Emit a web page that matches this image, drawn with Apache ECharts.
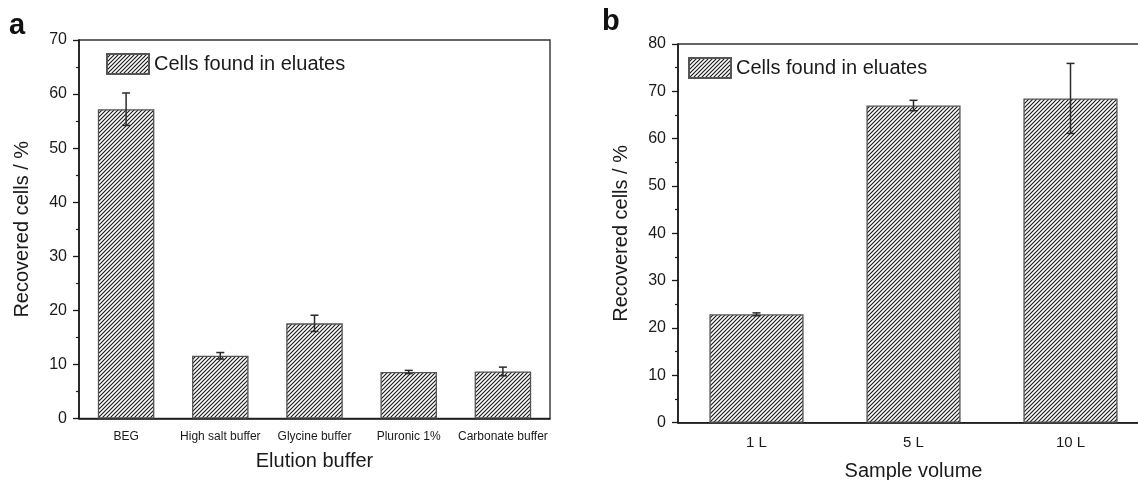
<!DOCTYPE html>
<html>
<head>
<meta charset="utf-8">
<script src="https://cdn.jsdelivr.net/npm/echarts@6/dist/echarts.min.js"></script>
<style>
html,body{margin:0;padding:0;background:#fff;}
#chart{width:1138px;height:480px;}
</style>
</head>
<body>
<div id="chart"></div>
<script>
// ---- data ----
const catsA = ['BEG', 'High salt buffer', 'Glycine buffer', 'Pluronic 1%', 'Carbonate buffer'];
const valsA = [57.2, 11.6, 17.6, 8.6, 8.7];
const errA  = [3.0, 0.6, 1.5, 0.3, 0.8];

const catsB = ['1 L', '5 L', '10 L'];
const valsB = [22.9, 67.0, 68.5];
const errB  = [0.3, 1.1, 7.4];

const yTicksA = [0, 10, 20, 30, 40, 50, 60, 70];
const yTicksB = [0, 10, 20, 30, 40, 50, 60, 70, 80];

const seriesName = 'Cells found in eluates';

// ---- hatch pattern ----
function makeHatch() {
  const s = 4;
  const c = document.createElement('canvas');
  c.width = s; c.height = s;
  const ctx = c.getContext('2d');
  ctx.fillStyle = '#ffffff';
  ctx.fillRect(0, 0, s, s);
  ctx.strokeStyle = '#1a1a1a';
  ctx.lineWidth = 1.15;
  ctx.beginPath();
  ctx.moveTo(-1, s + 1); ctx.lineTo(s + 1, -1);
  ctx.moveTo(-1, 1); ctx.lineTo(1, -1);
  ctx.moveTo(s - 1, s + 1); ctx.lineTo(s + 1, s - 1);
  ctx.stroke();
  return c;
}
const hatch = { image: makeHatch(), repeat: 'repeat' };

const font = 'Liberation Sans, Arial, sans-serif';

function errRender(params, api) {
  const i = api.value(0), v = api.value(1), e = api.value(2);
  const top = api.coord([i, v + e]);
  const bot = api.coord([i, v - e]);
  const hw = 4;
  const st = { stroke: '#2a2a2a', lineWidth: 1.5 };
  return {
    type: 'group',
    children: [
      { type: 'line', shape: { x1: top[0], y1: top[1], x2: bot[0], y2: bot[1] }, style: st },
      { type: 'line', shape: { x1: top[0] - hw, y1: top[1], x2: top[0] + hw, y2: top[1] }, style: st },
      { type: 'line', shape: { x1: bot[0] - hw, y1: bot[1], x2: bot[0] + hw, y2: bot[1] }, style: st }
    ]
  };
}

function xAxisCfg(cats, gridIndex, name, labelSize, labelMargin, nameGap) {
  return {
    type: 'category', gridIndex, data: cats,
    name, nameLocation: 'middle', nameGap,
    nameTextStyle: { fontFamily: font, fontSize: 20, color: '#1a1a1a' },
    axisLine: { lineStyle: { color: '#1a1a1a', width: 1.6 } },
    axisTick: { alignWithLabel: true, length: 6, lineStyle: { color: '#1a1a1a', width: 1.3 } },
    axisLabel: { fontFamily: font, fontSize: labelSize, color: '#1a1a1a', margin: labelMargin, interval: 0 },
    splitLine: { show: false }
  };
}
function yAxisCfg(gridIndex, ticks) {
  return {
    type: 'value', gridIndex, min: ticks[0], max: ticks[ticks.length - 1], interval: ticks[1] - ticks[0],
    name: 'Recovered cells / %', nameLocation: 'middle', nameGap: 47,
    nameTextStyle: { fontFamily: font, fontSize: 20, color: '#1a1a1a' },
    axisLine: { show: true, lineStyle: { color: '#1a1a1a', width: 1.6 } },
    axisTick: { show: true, length: 6, lineStyle: { color: '#1a1a1a', width: 1.3 } },
    minorTick: { show: true, splitNumber: 2, length: 3, lineStyle: { color: '#1a1a1a', width: 1.2 } },
    axisLabel: { fontFamily: font, fontSize: 16, color: '#1a1a1a', margin: 12 },
    splitLine: { show: false }
  };
}

const chart = echarts.init(document.getElementById('chart'), null, { renderer: 'canvas' });
chart.setOption({
  backgroundColor: '#fff',
  animation: false,
  grid: [
    { left: 79, top: 40, width: 471, height: 378.5, show: true, borderColor: '#333', borderWidth: 1.4,
      backgroundColor: 'transparent', containLabel: false, outerBoundsMode: 'none' },
    { left: 678, top: 44, width: 471, height: 378.7, show: true, borderColor: '#333', borderWidth: 1.4,
      backgroundColor: 'transparent', containLabel: false, outerBoundsMode: 'none' }
  ],
  legend: [
    { data: [seriesName], left: 106, top: 53, itemWidth: 42, itemHeight: 20, itemGap: 6, icon: 'rect',
      textStyle: { fontFamily: font, fontSize: 20, color: '#1a1a1a' }, selectedMode: false, padding: 0 },
    { data: [seriesName], left: 688, top: 57, itemWidth: 42, itemHeight: 20, itemGap: 6, icon: 'rect',
      textStyle: { fontFamily: font, fontSize: 20, color: '#1a1a1a' }, selectedMode: false, padding: 0 }
  ],
  xAxis: [
    xAxisCfg(catsA, 0, 'Elution buffer', 12, 12, 33),
    xAxisCfg(catsB, 1, 'Sample volume', 15, 13, 39)
  ],
  yAxis: [yAxisCfg(0, yTicksA), yAxisCfg(1, yTicksB)],
  graphic: [
    { type: 'text', left: 9, top: 11, style: { text: 'a', font: 'bold 29px ' + font, fill: '#111' } },
    { type: 'text', left: 602, top: 7, style: { text: 'b', font: 'bold 29px ' + font, fill: '#111' } }
  ],
  series: [
    { name: seriesName, type: 'bar', xAxisIndex: 0, yAxisIndex: 0, data: valsA, barWidth: '60%',
      itemStyle: { color: hatch, borderColor: '#555', borderWidth: 1.3 } },
    { type: 'custom', xAxisIndex: 0, yAxisIndex: 0, renderItem: errRender, z: 10,
      data: valsA.map((v, i) => [i, v, errA[i]]) },
    { name: seriesName, type: 'bar', xAxisIndex: 1, yAxisIndex: 1, data: valsB, barWidth: '60%',
      itemStyle: { color: hatch, borderColor: '#555', borderWidth: 1.3 } },
    { type: 'custom', xAxisIndex: 1, yAxisIndex: 1, renderItem: errRender, z: 10,
      data: valsB.map((v, i) => [i, v, errB[i]]) }
  ]
});
</script>
</body>
</html>
